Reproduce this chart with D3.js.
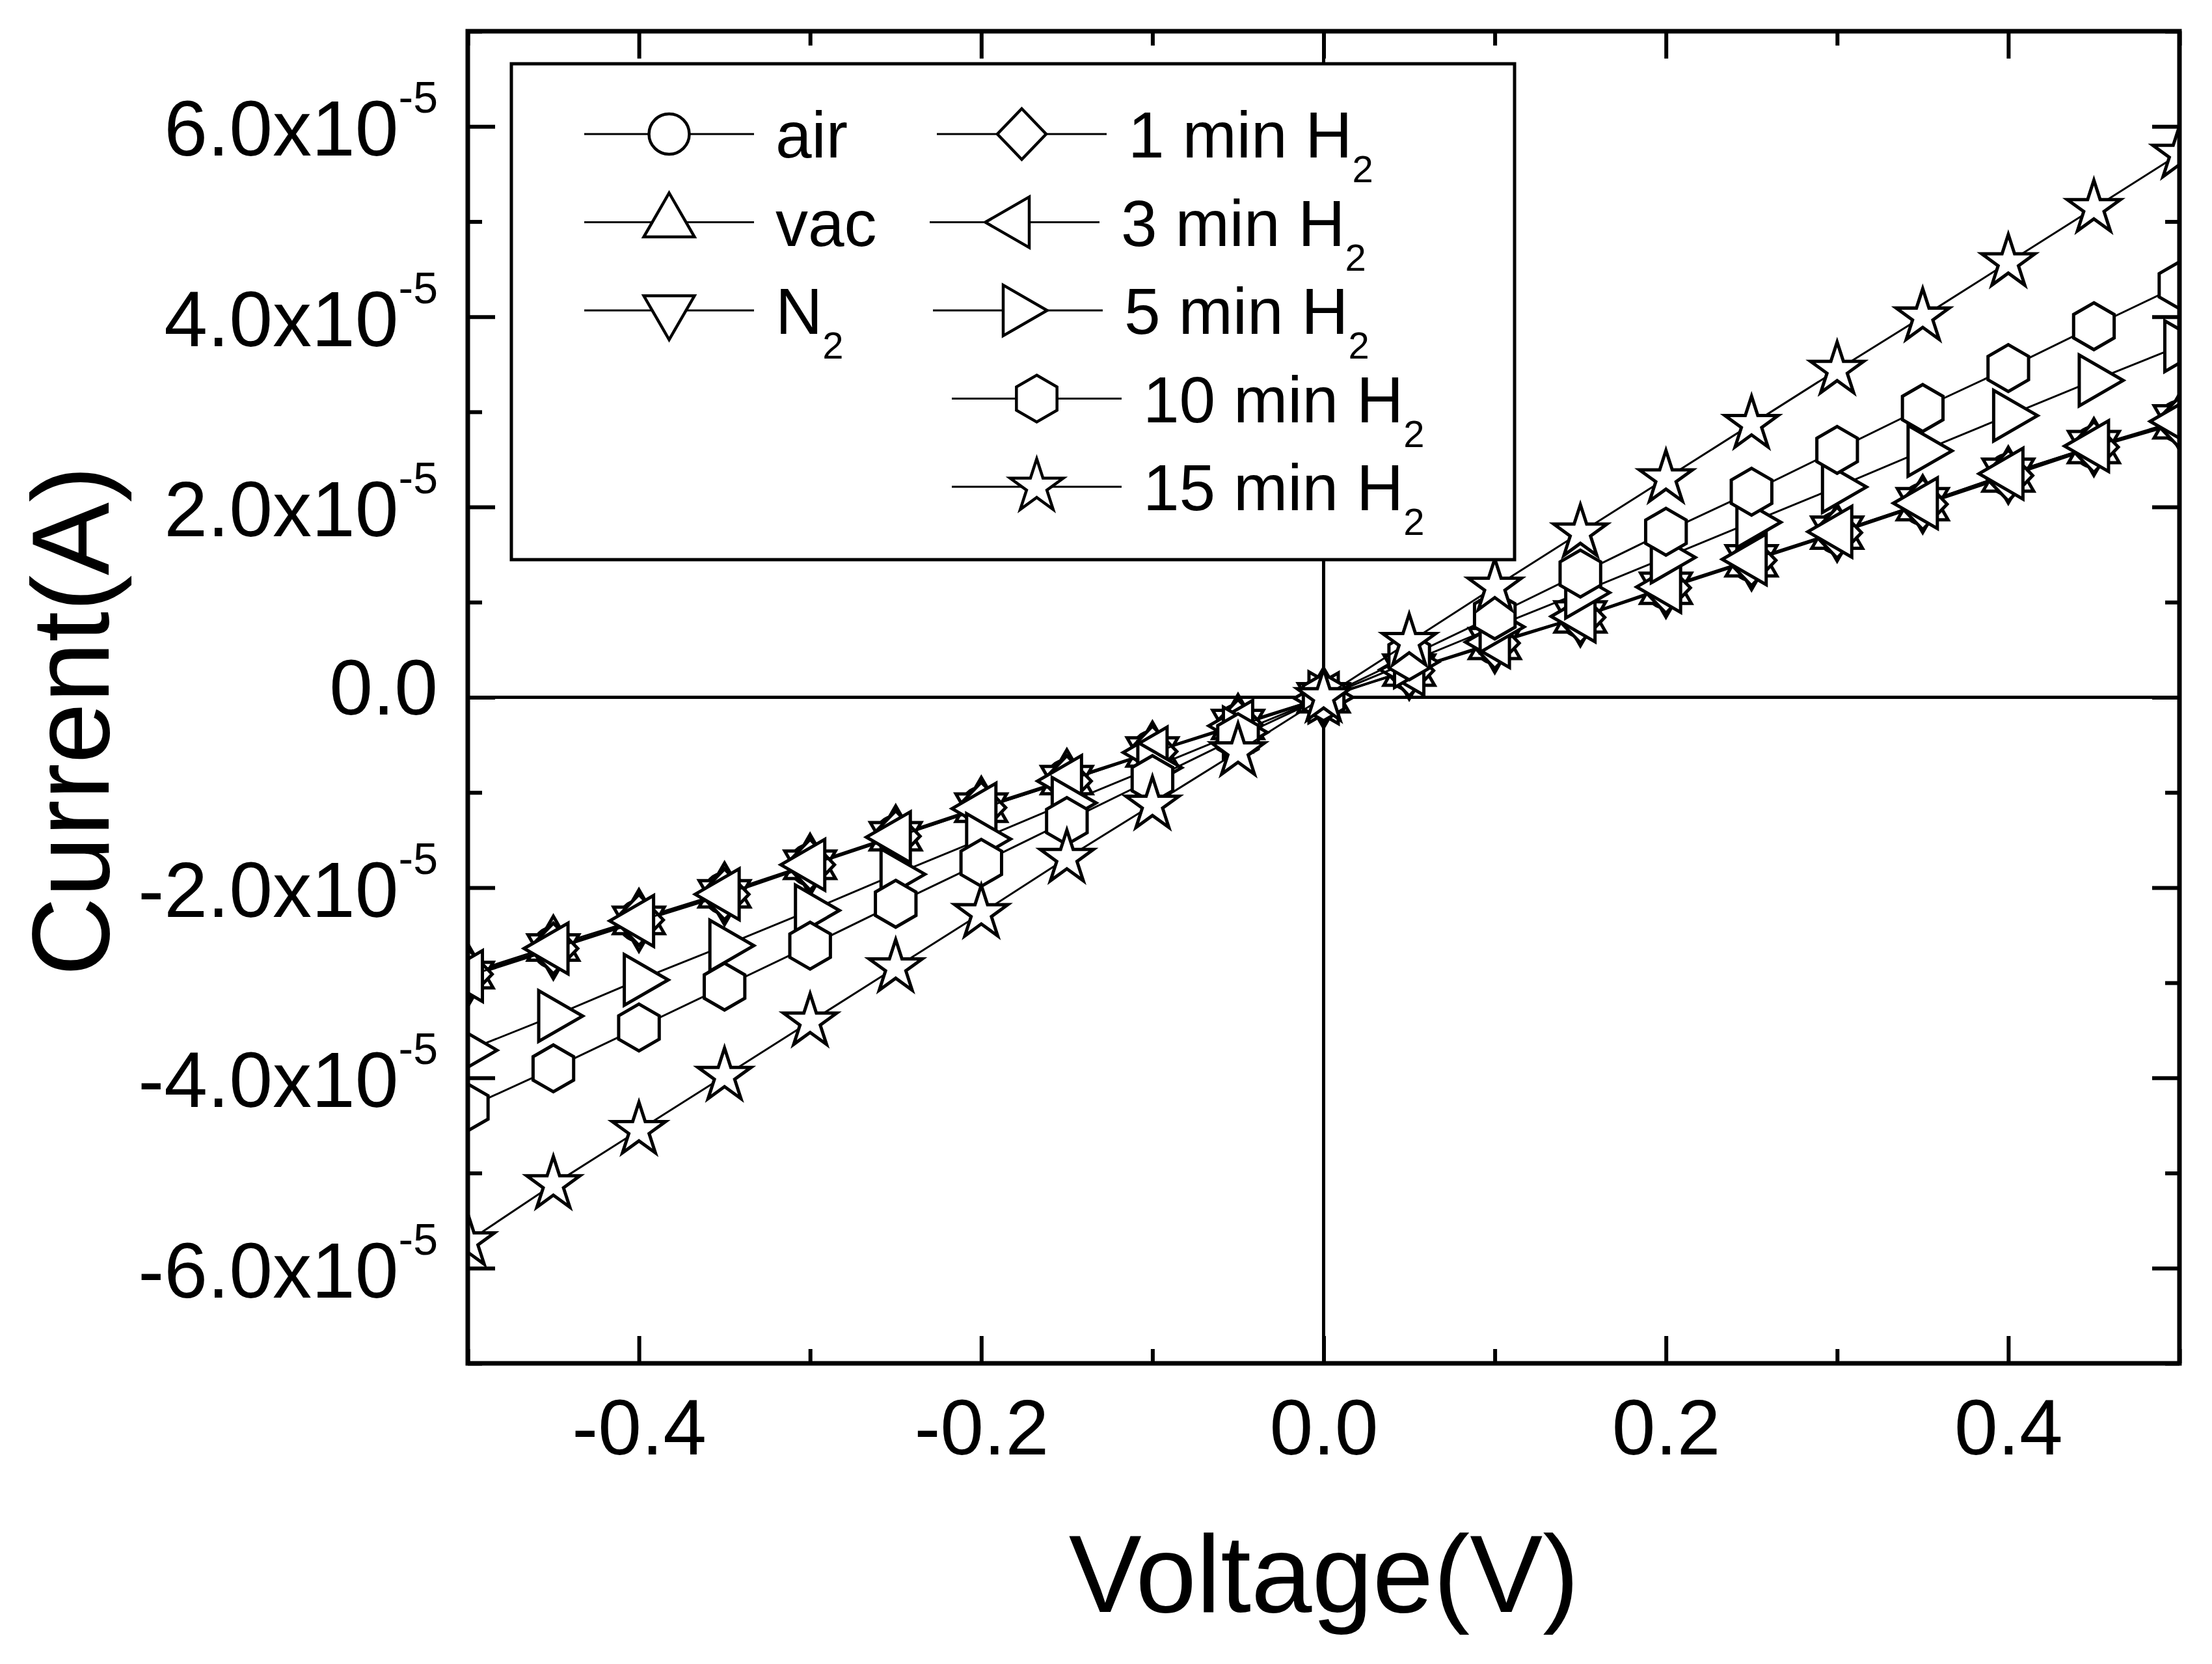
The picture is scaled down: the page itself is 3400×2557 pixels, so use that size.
<!DOCTYPE html>
<html>
<head>
<meta charset="utf-8">
<script src="https://cdn.jsdelivr.net/npm/d3@7"></script>
<style>
  body { margin: 0; background: #fff; }
  svg { display: block; font-family: "Liberation Sans", Arial, sans-serif; }
</style>
</head>
<body>
<div id="chart"></div>
<script>
// Bias voltage (V)
var voltage = [-0.5, -0.45, -0.4, -0.35, -0.3, -0.25, -0.2, -0.15, -0.1, -0.05, 0,
               0.05, 0.1, 0.15, 0.2, 0.25, 0.3, 0.35, 0.4, 0.45, 0.5];

// Current in units of 1e-5 A
var iAir   = [-2.92, -2.63, -2.35, -2.06, -1.76, -1.46, -1.16, -0.87, -0.57, -0.29, 0.00, 0.29, 0.57, 0.85, 1.15, 1.44, 1.73, 2.03, 2.34, 2.63, 2.90];
var iVac   = [-2.90, -2.61, -2.33, -2.05, -1.75, -1.45, -1.15, -0.86, -0.57, -0.28, 0.00, 0.28, 0.56, 0.84, 1.14, 1.43, 1.72, 2.02, 2.32, 2.62, 2.88];
var iN2    = [-2.94, -2.65, -2.36, -2.08, -1.77, -1.47, -1.17, -0.88, -0.58, -0.29, -0.01, 0.29, 0.57, 0.85, 1.15, 1.44, 1.74, 2.04, 2.35, 2.64, 2.91];
var i1min  = [-2.91, -2.64, -2.34, -2.07, -1.76, -1.46, -1.16, -0.88, -0.57, -0.29, 0.00, 0.28, 0.57, 0.84, 1.15, 1.44, 1.73, 2.03, 2.33, 2.63, 2.89];
var i3min  = [-2.93, -2.64, -2.35, -2.07, -1.76, -1.47, -1.17, -0.88, -0.58, -0.30, -0.01, 0.29, 0.58, 0.85, 1.16, 1.45, 1.74, 2.04, 2.35, 2.64, 2.90];
var i5min  = [-3.71, -3.35, -2.97, -2.61, -2.24, -1.86, -1.49, -1.11, -0.74, -0.37, 0.00, 0.37, 0.74, 1.10, 1.47, 1.84, 2.21, 2.59, 2.96, 3.33, 3.69];
var i10min = [-4.31, -3.90, -3.47, -3.04, -2.61, -2.17, -1.74, -1.30, -0.86, -0.42, 0.00, 0.43, 0.86, 1.30, 1.74, 2.16, 2.60, 3.04, 3.46, 3.90, 4.33];
var i15min = [-5.72, -5.12, -4.55, -3.98, -3.41, -2.84, -2.27, -1.69, -1.13, -0.57, 0.00, 0.58, 1.16, 1.73, 2.30, 2.87, 3.44, 4.00, 4.57, 5.14, 5.71];

var seriesNames = ["air", "vac", "N|2", "1 min H|2", "3 min H|2", "5 min H|2", "10 min H|2", "15 min H|2"];
var seriesSymbols = ["circle", "up", "down", "diamond", "left", "right", "hexagon", "star"];
var seriesValues = [iAir, iVac, iN2, i1min, i3min, i5min, i10min, i15min];

var xTicksMajor = [-0.4, -0.2, 0.0, 0.2, 0.4];
var xTicksMinor = [-0.5, -0.3, -0.1, 0.1, 0.3, 0.5];
var yTicksMajor = [-6, -4, -2, 0, 2, 4, 6];
var yTicksMinor = [-7, -5, -3, -1, 1, 3, 5, 7];
var xTickLabels = ["-0.4", "-0.2", "0.0", "0.2", "0.4"];
var yTickLabels = ["-6.0x10", "-4.0x10", "-2.0x10", "0.0", "2.0x10", "4.0x10", "6.0x10"];

// legend layout: column line start and row
var legendLayout = [
    { x0: 898, row: 0 }, { x0: 898, row: 1 }, { x0: 898, row: 2 },
    { x0: 1440, row: 0 }, { x0: 1429, row: 1 }, { x0: 1434, row: 2 },
    { x0: 1463, row: 3 }, { x0: 1463, row: 4 }
];

(function() {
    var W = 3400, H = 2557;
    var pL = 719, pR = 3350, pT = 48, pB = 2095;

    var svg = d3.select("#chart").append("svg")
        .attr("width", W)
        .attr("height", H);

    svg.append("rect").attr("width", W).attr("height", H).attr("fill", "#fff");

    var x = d3.scaleLinear().domain([-0.5, 0.5]).range([pL, pR]);
    var y = d3.scaleLinear().domain([-7, 7]).range([pB, pT]);

    // symbol shapes, centred on the point
    function poly(pts) {
        return { draw: function(ctx) {
            ctx.moveTo(pts[0][0], pts[0][1]);
            for (var i = 1; i < pts.length; i++) ctx.lineTo(pts[i][0], pts[i][1]);
            ctx.closePath();
        } };
    }
    function ring(n, R, start, r2) {
        var pts = [];
        var m = r2 ? n * 2 : n;
        for (var i = 0; i < m; i++) {
            var a = (start + i * 360 / m) * Math.PI / 180;
            var rr = (r2 && i % 2 === 1) ? r2 : R;
            pts.push([rr * Math.cos(a), rr * Math.sin(a)]);
        }
        return pts;
    }
    var shapes = {
        circle: { draw: function(ctx) { ctx.moveTo(31, 0); ctx.arc(0, 0, 31, 0, 2 * Math.PI); } },
        up: poly(ring(3, 45, -90)),
        down: poly(ring(3, 45, 90)),
        left: poly(ring(3, 45, 180)),
        right: poly(ring(3, 45, 0)),
        diamond: poly([[0, -39], [37.5, 0], [0, 39], [-37.5, 0]]),
        hexagon: poly(ring(6, 36, -90)),
        star: poly(ring(5, 43, -90, 16.4))
    };
    function symbolPath(name) {
        return d3.symbol().type(shapes[name]).size(1)();
    }

    // clip for the plot area
    svg.append("clipPath").attr("id", "plotClip")
       .append("rect")
       .attr("x", pL).attr("y", pT)
       .attr("width", pR - pL).attr("height", pB - pT);

    // zero lines
    svg.append("line")
       .attr("x1", pL).attr("x2", pR)
       .attr("y1", y(0)).attr("y2", y(0))
       .attr("stroke", "#000").attr("stroke-width", 5);
    svg.append("line")
       .attr("x1", x(0)).attr("x2", x(0))
       .attr("y1", pT).attr("y2", pB)
       .attr("stroke", "#000").attr("stroke-width", 5);

    // axes with inward ticks on all sides
    function styleAxis(g) {
        g.select(".domain").remove();
        g.selectAll(".tick line").attr("stroke-width", 6);
    }
    svg.append("g").attr("transform", "translate(0," + pB + ")")
       .call(d3.axisBottom(x).tickValues(xTicksMajor).tickSize(-42).tickPadding(55)
            .tickFormat(function(d, i) { return xTickLabels[i]; }))
       .call(styleAxis)
       .selectAll("text").attr("font-size", 120).attr("fill", "#000")
       .attr("font-family", "Liberation Sans, Arial, sans-serif");
    svg.append("g").attr("transform", "translate(0," + pB + ")")
       .call(d3.axisBottom(x).tickValues(xTicksMinor).tickSize(-22).tickFormat(""))
       .call(styleAxis);
    svg.append("g").attr("transform", "translate(0," + pT + ")")
       .call(d3.axisTop(x).tickValues(xTicksMajor).tickSize(-42).tickFormat(""))
       .call(styleAxis);
    svg.append("g").attr("transform", "translate(0," + pT + ")")
       .call(d3.axisTop(x).tickValues(xTicksMinor).tickSize(-22).tickFormat(""))
       .call(styleAxis);
    svg.append("g").attr("transform", "translate(" + pL + ",0)")
       .call(d3.axisLeft(y).tickValues(yTicksMajor).tickSize(-42).tickFormat(""))
       .call(styleAxis);
    svg.append("g").attr("transform", "translate(" + pL + ",0)")
       .call(d3.axisLeft(y).tickValues(yTicksMinor).tickSize(-22).tickFormat(""))
       .call(styleAxis);
    svg.append("g").attr("transform", "translate(" + pR + ",0)")
       .call(d3.axisRight(y).tickValues(yTicksMajor).tickSize(-42).tickFormat(""))
       .call(styleAxis);
    svg.append("g").attr("transform", "translate(" + pR + ",0)")
       .call(d3.axisRight(y).tickValues(yTicksMinor).tickSize(-22).tickFormat(""))
       .call(styleAxis);

    // y tick labels with superscript exponent
    var yLab = svg.append("g").attr("font-size", 120).attr("text-anchor", "end");
    yTicksMajor.forEach(function(v, i) {
        var t = yLab.append("text")
            .attr("x", 673)
            .attr("y", y(v) + (v === 0 ? 26 : 45));
        t.append("tspan").text(yTickLabels[i]);
        if (v !== 0) {
            t.append("tspan").attr("font-size", 68).attr("dy", -66).text("-5");
        }
    });

    // series
    var plot = svg.append("g").attr("clip-path", "url(#plotClip)");
    var line = d3.line()
        .x(function(d) { return x(d[0]); })
        .y(function(d) { return y(d[1]); });

    seriesValues.forEach(function(vals, s) {
        var pts = voltage.map(function(v, i) { return [v, vals[i]]; });
        var g = plot.append("g");
        g.append("path")
         .datum(pts)
         .attr("fill", "none")
         .attr("stroke", "#000")
         .attr("stroke-width", 3)
         .attr("d", line);
        g.selectAll("path.pt")
         .data(pts)
         .enter().append("path")
         .attr("class", "pt")
         .attr("transform", function(d) { return "translate(" + x(d[0]) + "," + y(d[1]) + ")"; })
         .attr("d", symbolPath(seriesSymbols[s]))
         .attr("fill", "#fff")
         .attr("stroke", "#000")
         .attr("stroke-width", 5);
    });

    // frame
    svg.append("rect")
       .attr("x", pL).attr("y", pT)
       .attr("width", pR - pL).attr("height", pB - pT)
       .attr("fill", "none").attr("stroke", "#000").attr("stroke-width", 7);

    // legend
    svg.append("rect")
       .attr("x", 786).attr("y", 98)
       .attr("width", 2328 - 786).attr("height", 860 - 98)
       .attr("fill", "#fff").attr("stroke", "#000").attr("stroke-width", 5);

    seriesNames.forEach(function(name, s) {
        var L = legendLayout[s];
        var cy = 206 + L.row * 135.5;
        var g = svg.append("g");
        g.append("line")
         .attr("x1", L.x0).attr("x2", L.x0 + 261)
         .attr("y1", cy).attr("y2", cy)
         .attr("stroke", "#000").attr("stroke-width", 3);
        g.append("path")
         .attr("transform", "translate(" + (L.x0 + 130.5) + "," + cy + ")")
         .attr("d", symbolPath(seriesSymbols[s]))
         .attr("fill", "#fff").attr("stroke", "#000").attr("stroke-width", 4.5);
        var parts = name.split("|");
        var t = g.append("text")
         .attr("x", L.x0 + 294)
         .attr("y", cy + 36)
         .attr("font-size", 100);
        t.append("tspan").text(parts[0]);
        if (parts[1]) t.append("tspan").attr("font-size", 58).attr("dy", 38).text(parts[1]);
    });

    // axis titles
    svg.append("text")
       .attr("x", 2035).attr("y", 2477)
       .attr("text-anchor", "middle")
       .attr("font-size", 168)
       .text("Voltage(V)");

    svg.append("text")
       .attr("transform", "translate(167,1108) rotate(-90)")
       .attr("text-anchor", "middle")
       .attr("font-size", 168)
       .text("Current(A)");
})();
</script>
</body>
</html>
